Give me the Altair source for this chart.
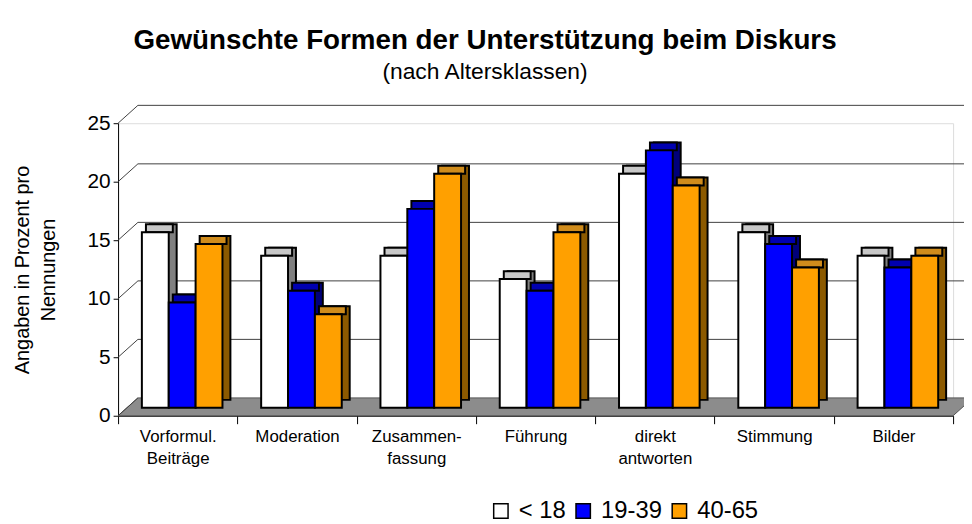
import altair as alt
import pandas as pd

categories = ["Vorformul.|Beiträge", "Moderation", "Zusammen-|fassung", "Führung",
              "direkt|antworten", "Stimmung", "Bilder"]
groups = ["< 18", "19-39", "40-65"]
under_18 = [15, 13, 13, 11, 20, 15, 13]
age_19_39 = [9, 10, 17, 10, 22, 14, 12]
age_40_65 = [14, 8, 20, 15, 19, 12, 13]
y_ticks = [0, 5, 10, 15, 20, 25]

front_colors = ["#FFFFFF", "#0000FF", "#FFA000"]
side_colors = ["#808080", "#00007A", "#8C5A00"]
top_colors = ["#C8C8C8", "#0000B0", "#D08C1C"]

FONT = "Liberation Sans"
W, H = 842, 295
DX, DY = 20, 18   # depth of back wall
BD = 8            # bar depth

rows = []
for g, vals in zip(groups, [under_18, age_19_39, age_40_65]):
    for c, v in zip(categories, vals):
        rows.append({"cat": c, "grp": g, "val": v})
df = pd.DataFrame(rows)
ticks_df = pd.DataFrame({"v": y_ticks})
floor_df = pd.DataFrame({"v": [0]})

yscale = alt.Scale(domain=[0, 25], nice=False, zero=True)
y_axis = alt.Axis(values=y_ticks, grid=False, domainColor="black", domainWidth=1,
                  tickColor="black", tickSize=5, labelFontSize=21, labelFont=FONT,
                  labelColor="black", labelPadding=3,
                  title=["Angaben in Prozent pro", "Nennungen"], titleFont=FONT,
                  titleFontSize=20, titleFontWeight="normal", titleColor="black",
                  titlePadding=29, titleLineHeight=26)
x_axis = alt.Axis(title=None, labelAngle=0, labelExpr="split(datum.label, '|')",
                  labelFont=FONT, labelFontSize=17, labelColor="black", labelLineHeight=22,
                  labelPadding=5, tickBand="extent", tickColor="black", tickSize=8,
                  domainColor="black", domainWidth=1, labelBaseline="top")


def xenc(align):
    return dict(
        x=alt.X("cat:N", sort=categories, scale=alt.Scale(paddingInner=0, paddingOuter=0), axis=x_axis),
        xOffset=alt.XOffset("grp:N", sort=groups,
                            scale=alt.Scale(domain=groups, paddingInner=0, paddingOuter=0.72, align=align)),
    )


floor = alt.Chart(floor_df).mark_point(
    shape=f"M0,0L{W},0L{W + DX},{-DY}L{DX},{-DY}Z", size=4, filled=True,
    fill="#8C8C8C", stroke="#555555", strokeWidth=1, opacity=1
).encode(x=alt.value(0), y=alt.Y("v:Q", scale=yscale, axis=y_axis))

diag = alt.Chart(ticks_df).mark_rule(color="#404040", strokeWidth=1, y2Offset=-DY).encode(
    x=alt.value(0), x2=alt.value(DX),
    y=alt.Y("v:Q", scale=yscale, axis=y_axis), y2="v:Q")

grid = alt.Chart(ticks_df[ticks_df.v > 0]).mark_rule(
    color="#404040", strokeWidth=1, yOffset=-DY, y2Offset=-DY).encode(
    x=alt.value(DX), x2=alt.value(W + DX + 20),
    y=alt.Y("v:Q", scale=yscale, axis=y_axis), y2="v:Q")

side = alt.Chart(df).mark_bar(stroke="black", strokeWidth=2,
                              yOffset=-8 - BD, y2Offset=-8 - BD).encode(
    **xenc(0.82),
    y=alt.Y("val:Q", scale=yscale, axis=y_axis), y2=alt.Y2(datum=0),
    color=alt.Color("grp:N", sort=groups, scale=alt.Scale(domain=groups, range=side_colors), legend=None),
)

top = alt.Chart(df).mark_bar(stroke="black", strokeWidth=2,
                             yOffset=-8 - BD, y2Offset=-8).encode(
    **xenc(0.72),
    y=alt.Y("val:Q", scale=yscale, axis=y_axis), y2="val:Q",
    color=alt.Color("grp:N", sort=groups, scale=alt.Scale(domain=groups, range=top_colors), legend=None),
)

front = alt.Chart(df).mark_bar(stroke="black", strokeWidth=2, yOffset=-8, y2Offset=-8).encode(
    **xenc(0.615),
    y=alt.Y("val:Q", scale=yscale, axis=y_axis), y2=alt.Y2(datum=0),
    color=alt.Color("grp:N", sort=groups, scale=alt.Scale(domain=groups, range=front_colors),
                    legend=alt.Legend(title=None, orient="none", legendX=374, legendY=379,
                                      direction="horizontal", symbolType="square", symbolSize=210,
                                      symbolStrokeColor="black", symbolStrokeWidth=1.5,
                                      symbolOpacity=1, labelFont=FONT, labelFontSize=24,
                                      labelColor="black", columnPadding=5, labelOffset=6)),
)

chart = alt.layer(floor, diag, grid, side, top, front).resolve_scale(
    color="independent", xOffset="independent"
).properties(
    width=W, height=H,
    autosize=alt.AutoSizeParams(type="none"),
    padding={"left": 111, "top": 114, "right": 11, "bottom": 107},
    title=alt.TitleParams(
        text="Gewünschte Formen der Unterstützung beim Diskurs",
        subtitle="(nach Altersklassen)",
        font=FONT, fontSize=28, fontWeight="bold", color="black",
        subtitleFont=FONT, subtitleFontSize=23, subtitleColor="black",
        subtitlePadding=6, anchor="middle", dx=-51, offset=21,
    ),
).configure_view(stroke=None).configure(background="white")

chart.save("out.html", embed_options={"renderer": "svg", "actions": False})
